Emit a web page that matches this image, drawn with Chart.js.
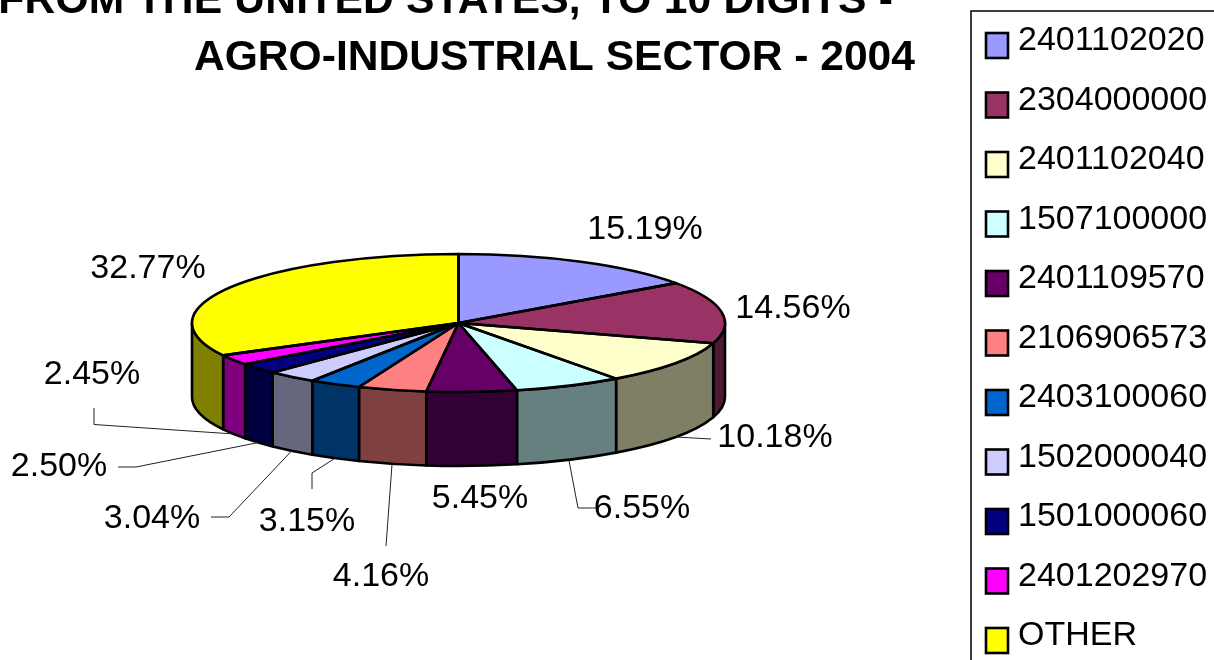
<!DOCTYPE html>
<html>
<head>
<meta charset="utf-8">
<style>
  html, body { margin: 0; padding: 0; background: #fff; overflow: hidden; }
</style>
<script src="https://cdn.jsdelivr.net/npm/chart.js@4"></script>
</head>
<body>
<canvas id="pieChart" width="1214" height="660"></canvas>
<script>
const titleLines = ['FROM THE UNITED STATES, TO 10 DIGITS -', 'AGRO-INDUSTRIAL SECTOR - 2004'];
const categories = ['2401102020', '2304000000', '2401102040', '1507100000', '2401109570', '2106906573',
    '2403100060', '1502000040', '1501000060', '2401202970', 'OTHER'];
const shares = [15.19, 14.56, 10.18, 6.55, 5.45, 4.16, 3.15, 3.04, 2.50, 2.45, 32.77];
const sliceColors = ['#9999FF', '#993366', '#FFFFCC', '#CCFFFF', '#660066', '#FF8080',
    '#0066CC', '#CCCCFF', '#000080', '#FF00FF', '#FFFF00'];

const FONT = '"Liberation Sans", Arial, sans-serif';
const SQUASH = 69 / 266.5; // pie tilt
const DEPTH = 74;

// where each percent label sits, and the bends of its leader line (relative to the label)
const labelSpots = [
    { x: 645, y: 230 }, { x: 793, y: 309 },
    { x: 775, y: 438, bends: [[-64, 1]] },
    { x: 642, y: 509, bends: [[-64, -1], [-44, -1]] },
    { x: 480, y: 499 },
    { x: 381, y: 577, bends: [[5, -31]] },
    { x: 307, y: 522, bends: [[5, -49], [5, -33]] },
    { x: 152, y: 519, bends: [[77, -2], [59, -2]] },
    { x: 59, y: 467, bends: [[77, 0], [59, 0]] },
    { x: 92, y: 375, bends: [[2, 49.5], [2, 33]] },
    { x: 148, y: 269 }
];

function darken(hex) {
    const n = parseInt(hex.slice(1), 16);
    return `rgb(${(n >> 16 & 255) >> 1}, ${(n >> 8 & 255) >> 1}, ${(n & 255) >> 1})`;
}

const pie3d = {
    id: 'pie3d',
    beforeDatasetsDraw(chart) {
        const ctx = chart.ctx;
        const arcs = chart.getDatasetMeta(0).data;
        const { x: cx, y: cy, outerRadius: rx } = arcs[0];
        const ry = rx * SQUASH;

        // side wall, only the front half of the rim shows
        ctx.save();
        ctx.lineWidth = 2.6;
        ctx.strokeStyle = '#000';
        ctx.lineJoin = 'round';
        arcs.forEach((arc, i) => {
            const s = Math.max(arc.startAngle, 0);
            const e = Math.min(arc.endAngle, Math.PI);
            if (s >= e) return;
            ctx.beginPath();
            ctx.ellipse(cx, cy, rx, ry, 0, s, e);
            ctx.ellipse(cx, cy + DEPTH, rx, ry, 0, e, s, true);
            ctx.closePath();
            ctx.fillStyle = darken(sliceColors[i]);
            ctx.fill();
            ctx.stroke();
        });
        ctx.restore();

        // the library draws the top face, squashed into an ellipse
        ctx.save();
        ctx.translate(cx, cy);
        ctx.scale(1, SQUASH);
        ctx.translate(-cx, -cy);
    },
    afterDatasetsDraw(chart) {
        const ctx = chart.ctx;
        ctx.restore();

        const arcs = chart.getDatasetMeta(0).data;
        const { x: cx, y: cy, outerRadius: rx } = arcs[0];
        const ry = rx * SQUASH;

        ctx.save();
        ctx.lineWidth = 2.6;
        ctx.strokeStyle = '#000';
        ctx.lineJoin = 'round';
        arcs.forEach(arc => {
            ctx.beginPath();
            ctx.moveTo(cx, cy);
            ctx.ellipse(cx, cy, rx, ry, 0, arc.startAngle, arc.endAngle);
            ctx.closePath();
            ctx.stroke();
        });

        // leader lines run from the rim to the label
        ctx.lineWidth = 1;
        ctx.strokeStyle = '#222';
        arcs.forEach((arc, i) => {
            const spot = labelSpots[i];
            if (!spot.bends) return;
            const mid = (arc.startAngle + arc.endAngle) / 2;
            ctx.beginPath();
            ctx.moveTo(cx + rx * Math.cos(mid), cy + ry * Math.sin(mid) + DEPTH);
            spot.bends.forEach(b => ctx.lineTo(spot.x + b[0], spot.y + b[1]));
            ctx.stroke();
        });

        ctx.fillStyle = '#000';
        ctx.font = '34px ' + FONT;
        ctx.textAlign = 'center';
        ctx.textBaseline = 'middle';
        shares.forEach((v, i) => {
            ctx.fillText(v.toFixed(2) + '%', labelSpots[i].x, labelSpots[i].y);
        });
        ctx.restore();
    },
    afterDraw(chart) {
        const ctx = chart.ctx;
        ctx.save();

        // title, first line runs off the top of the page
        ctx.fillStyle = '#000';
        ctx.font = 'bold 42.6px ' + FONT;
        ctx.textBaseline = 'alphabetic';
        ctx.textAlign = 'right';
        ctx.letterSpacing = '0.19px';
        ctx.fillText(titleLines[0], 893, 13);
        ctx.letterSpacing = '0px';
        ctx.fillText(titleLines[1], 915, 70);

        // legend frame runs off the page on the right and bottom
        ctx.strokeStyle = '#000';
        ctx.lineWidth = 1.5;
        ctx.strokeRect(971, 11, 300, 700);

        ctx.font = '34px ' + FONT;
        ctx.textAlign = 'left';
        categories.forEach((name, i) => {
            const rowY = i * 59.5;
            ctx.fillStyle = sliceColors[i];
            ctx.fillRect(986, 33 + rowY, 22, 25);
            ctx.lineWidth = 2.6;
            ctx.strokeRect(986, 33 + rowY, 22, 25);
            ctx.fillStyle = '#000';
            ctx.fillText(name, 1018, 50 + rowY);
        });
        ctx.restore();
    }
};

new Chart(document.getElementById('pieChart'), {
    type: 'pie',
    data: {
        labels: categories,
        datasets: [{
            data: shares,
            backgroundColor: sliceColors,
            borderWidth: 0
        }]
    },
    options: {
        responsive: false,
        animation: false,
        layout: { padding: { left: 192, right: 489, top: 56.5, bottom: 70.5 } },
        plugins: {
            legend: { display: false },
            title: { display: false },
            tooltip: { enabled: false }
        }
    },
    plugins: [pie3d]
});
</script>
</body>
</html>
